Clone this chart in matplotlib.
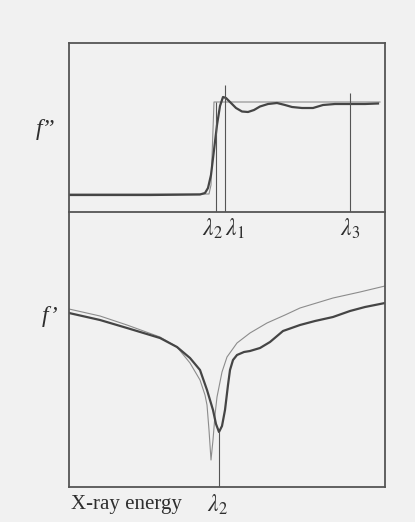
import matplotlib
matplotlib.use("Agg")
import matplotlib.pyplot as plt

plt.rcParams['font.family'] = ['Liberation Serif', 'DejaVu Serif']
plt.rcParams['mathtext.fontset'] = 'stix'

# ---- data (arbitrary units) ----
# upper panel: f'' (absorption) measured (thick) and idealised step (thin)
e_fpp = [0, 81, 131, 136, 139, 142, 145, 148, 151, 154, 157, 161, 167, 173,
         179, 185, 191, 199, 208, 216, 223, 233, 244, 254, 266, 281, 296, 309]
fpp = [1.7, 1.7, 1.75, 1.9, 2.4, 3.7, 6.2, 8.7, 10.6, 11.5, 11.4, 11.0, 10.4,
       10.05, 10.0, 10.2, 10.55, 10.8, 10.9, 10.7, 10.5, 10.4, 10.4, 10.7,
       10.8, 10.8, 10.8, 10.85]
e_step = [0, 140, 142, 145, 161, 311]
fpp_step = [1.8, 1.8, 2.7, 11.0, 11.0, 11.0]

# lower panel: f' (dispersion) measured (thick) and theoretical (thin)
e_fp = [0, 31, 58, 91, 108, 121, 131, 138, 144, 147, 150, 153, 156, 159, 161,
        164, 168, 175, 181, 191, 201, 214, 231, 246, 264, 281, 296, 316]
fp = [-10.1, -10.8, -11.6, -12.6, -13.5, -14.6, -15.8, -17.8, -19.8, -21.2,
      -22.0, -21.4, -19.8, -17.3, -15.8, -14.8, -14.3, -14.0, -13.9, -13.6,
      -13.0, -11.9, -11.3, -10.9, -10.5, -9.9, -9.5, -9.1]
e_fp_thin = [0, 31, 58, 91, 108, 121, 131, 136, 138, 140, 142, 144, 146, 148,
             153, 158, 168, 181, 198, 216, 231, 264, 291, 316]
fp_thin = [-9.7, -10.4, -11.3, -12.5, -13.5, -15.1, -16.8, -18.3, -19.3,
           -21.8, -24.8, -22.8, -20.3, -18.5, -16.0, -14.5, -13.1, -12.1,
           -11.1, -10.3, -9.6, -8.6, -8.0, -7.4]

# wavelengths chosen for data collection
lambda_names = ['$\\lambda_2$', '$\\lambda_1$', '$\\lambda_3$']
lambda_energy = [147, 156, 281]
lambda_top = [11.0, 12.7, 11.9]
lambda2_lower = 150

BG = '#f1f1f1'
DARK = '#454545'
THIN = '#8c8c8c'
TXT = '#2e2e2e'

fig = plt.figure(figsize=(4.15, 5.22), dpi=100)
fig.patch.set_facecolor(BG)

W, H = 415, 522
ax1 = fig.add_axes([69 / W, 1 - 212 / H, 316 / W, 169 / H])
ax2 = fig.add_axes([69 / W, 1 - 487 / H, 316 / W, 275 / H])
ax1.set_zorder(3)

for ax in (ax1, ax2):
    ax.set_facecolor(BG)
    ax.set_xlim(0, 316)
    ax.set_xticks([])
    ax.set_yticks([])
    for s in ax.spines.values():
        s.set_color('#555555')
        s.set_linewidth(1.3)
ax2.spines['top'].set_visible(False)

ax1.set_ylim(0, 16.9)
ax2.set_ylim(-27.5, 0)

# upper panel
ax1.plot(e_step, fpp_step, color=THIN, lw=0.8)
ax1.plot(e_fpp, fpp, color=DARK, lw=1.6)
ax1.vlines(lambda_energy, 0, lambda_top, color='#555555', lw=0.8)

# lower panel
ax2.plot(e_fp_thin, fp_thin, color=THIN, lw=0.8)
ax2.plot(e_fp, fp, color=DARK, lw=1.6)
ax2.vlines([lambda2_lower], ax2.get_ylim()[0], min(fp), color='#555555', lw=0.8)

# labels
ax1.text(-0.075, 0.49, 'f\u201d', transform=ax1.transAxes, fontsize=17,
         fontstyle='italic', ha='center', va='center', color=TXT)
ax2.text(-0.06, 0.62, 'f\u2019', transform=ax2.transAxes, fontsize=17,
         fontstyle='italic', ha='center', va='center', color=TXT)

label_offsets = [-4, 10, 0]
for name, e, off in zip(lambda_names, lambda_energy, label_offsets):
    ax1.text(e + off, -0.1, name, transform=ax1.get_xaxis_transform(),
             fontsize=17, ha='center', va='center', color=TXT, clip_on=False)

ax2.text(lambda2_lower - 2, -0.065, lambda_names[0],
         transform=ax2.get_xaxis_transform(), fontsize=17,
         ha='center', va='center', color=TXT)
ax2.text(0.005, -0.065, 'X-ray energy', transform=ax2.transAxes,
         fontsize=15, ha='left', va='center', color=TXT)

fig.savefig('out.png', dpi=100, facecolor=BG)
